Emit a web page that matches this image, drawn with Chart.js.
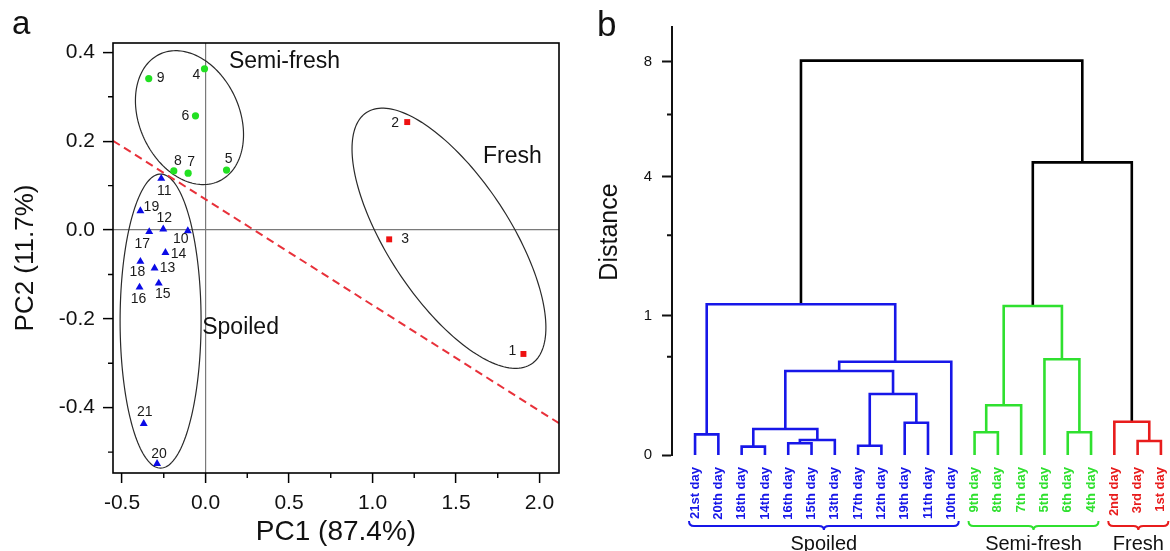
<!DOCTYPE html>
<html>
<head>
<meta charset="utf-8">
<title>PCA and HCA of storage days</title>
<script src="https://cdn.jsdelivr.net/npm/chart.js@4.4.1/dist/chart.umd.min.js"></script>
<style>
  html, body { margin: 0; padding: 0; background: #fff; }
  #wrap { position: relative; width: 1170px; height: 551px; }
  #pcaBox { position: absolute; left: 0; top: 0; width: 580px; height: 551px; }
  #hcaBox { position: absolute; left: 580px; top: 0; width: 590px; height: 551px; }
</style>
</head>
<body>
<div id="wrap">
  <div id="pcaBox"><canvas id="pcaChart"></canvas></div>
  <div id="hcaBox"><canvas id="hcaChart"></canvas></div>
</div>
<script>
const FONT = '"Liberation Sans", Arial, sans-serif';

// ---- a: PCA score plot ----
const freshDays = [1, 2, 3];
const freshPC1 = [1.904, 1.208, 1.100];
const freshPC2 = [-0.279, 0.243, -0.021];

const semiDays = [4, 5, 6, 7, 8, 9];
const semiPC1 = [-0.006, 0.126, -0.060, -0.104, -0.190, -0.340];
const semiPC2 = [0.363, 0.135, 0.257, 0.128, 0.133, 0.341];

const spoiledDays = [10, 11, 12, 13, 14, 15, 16, 17, 18, 19, 20, 21];
const spoiledPC1 = [-0.106, -0.265, -0.253, -0.305, -0.240, -0.280, -0.395, -0.337, -0.390, -0.390, -0.290, -0.370];
const spoiledPC2 = [-0.002, 0.116, 0.002, -0.086, -0.051, -0.120, -0.129, -0.004, -0.071, 0.043, -0.526, -0.436];

// group ellipses (semi-fresh, spoiled, fresh): centre and two half-axis vectors in PC units
const ellipseCenter = [[-0.096, 0.253], [-0.269, -0.205], [1.458, -0.0185]];
const ellipseAxisA = [[0.177, -0.143], [0, 0.331], [0.494, -0.283]];
const ellipseAxisB = [[-0.271, -0.0476], [0.2425, 0], [-0.305, -0.0755]];

// dividing line
const sepPC1 = [-0.554, 2.117];
const sepPC2 = [0.201, -0.435];

const pc1Ticks = [-0.5, 0, 0.5, 1, 1.5, 2];
const pc1Minor = [-0.25, 0.25, 0.75, 1.25, 1.75];
const pc2Ticks = [-0.4, -0.2, 0, 0.2, 0.4];
const pc2Minor = [-0.5, -0.3, -0.1, 0.1, 0.3];

const noteText = ['Semi-fresh', 'Fresh', 'Spoiled'];
const notePC1 = [0.473, 1.838, 0.21];
const notePC2 = [0.379, 0.165, -0.219];

// ---- b: dendrogram ----
const leafLabels = ['21st day', '20th day', '18th day', '14th day', '16th day', '15th day', '13th day',
  '17th day', '12th day', '19th day', '11th day', '10th day',
  '9th day', '8th day', '7th day', '5th day', '6th day', '4th day',
  '2nd day', '3rd day', '1st day'];
const leafGroup = [0, 0, 0, 0, 0, 0, 0, 0, 0, 0, 0, 0, 1, 1, 1, 1, 1, 1, 2, 2, 2];
const groupNames = ['Spoiled', 'Semi-fresh', 'Fresh'];

// linkage: node ids 0-20 are leaves, merge k becomes node 21 + k
const mergeLeft = [0, 2, 4, 23, 22, 7, 9, 26, 25, 29, 21, 12, 32, 16, 15, 33, 19, 18, 36, 31];
const mergeRight = [1, 3, 5, 6, 24, 8, 10, 27, 28, 11, 30, 13, 14, 17, 34, 35, 20, 37, 38, 39];
const mergeHeight = [0.022, 0.0036, 0.0071, 0.0116, 0.035, 0.0045, 0.054, 0.193, 0.365, 0.45, 1.175,
  0.0267, 0.128, 0.0267, 0.474, 1.149, 0.0101, 0.0574, 4.43, 8.05];

const distTicks = [0, 1, 4, 8];
const distMinor = [0.5, 2.5, 6];

const groupColors = ['#1717e8', '#2fe02f', '#e81c1c'];

// label placement for the day numbers, pixels from the marker
const dayLabelOffset = {
  1: [-11, -3], 2: [-12, 1], 3: [16, 0], 4: [-8, 6], 5: [2, -11], 6: [-10, 0], 7: [3, -11],
  8: [4, -10], 9: [12, 0], 10: [-7, 8], 11: [3, 13], 12: [1, -11], 13: [13, 0], 14: [13, 1],
  15: [4, 11], 16: [-1, 12], 17: [-7, 12], 18: [-3, 11], 19: [11, -4], 20: [2, -10], 21: [1, -12]
};

// square-root value axis used by the dendrogram
class SqrtScale extends Chart.LinearScale {
  static id = 'sqrt';
  getPixelForValue(value) {
    const lo = Math.sqrt(this.min), hi = Math.sqrt(this.max);
    return this.getPixelForDecimal((Math.sqrt(Math.max(0, value)) - lo) / (hi - lo));
  }
  getValueForPixel(pixel) {
    const lo = Math.sqrt(this.min), hi = Math.sqrt(this.max);
    const s = lo + this.getDecimalForPixel(pixel) * (hi - lo);
    return s * s;
  }
}
Chart.register(SqrtScale);

function toPoints(xs, ys) {
  return xs.map((v, i) => ({ x: v, y: ys[i] }));
}

const pcaDecor = {
  id: 'pcaDecor',
  beforeDatasetsDraw(chart) {
    const { ctx, scales: { x, y } } = chart;
    ctx.save();
    ctx.strokeStyle = '#2a2a2a';
    ctx.lineWidth = 1.2;
    ellipseCenter.forEach((c, i) => {
      ctx.beginPath();
      for (let k = 0; k <= 180; k++) {
        const t = k / 180 * Math.PI * 2;
        const u = c[0] + Math.cos(t) * ellipseAxisA[i][0] + Math.sin(t) * ellipseAxisB[i][0];
        const v = c[1] + Math.cos(t) * ellipseAxisA[i][1] + Math.sin(t) * ellipseAxisB[i][1];
        const px = x.getPixelForValue(u), py = y.getPixelForValue(v);
        if (k === 0) ctx.moveTo(px, py); else ctx.lineTo(px, py);
      }
      ctx.closePath();
      ctx.stroke();
    });
    ctx.restore();
  },
  afterDraw(chart) {
    const { ctx, chartArea: a, scales: { x, y } } = chart;
    ctx.save();
    // frame
    ctx.strokeStyle = '#000';
    ctx.lineWidth = 1.6;
    ctx.strokeRect(a.left, a.top, a.right - a.left, a.bottom - a.top);
    // minor ticks
    ctx.lineWidth = 1.4;
    ctx.beginPath();
    pc1Minor.forEach(v => {
      const px = x.getPixelForValue(v);
      ctx.moveTo(px, a.bottom); ctx.lineTo(px, a.bottom + 5);
    });
    pc2Minor.forEach(v => {
      const py = y.getPixelForValue(v);
      ctx.moveTo(a.left - 5, py); ctx.lineTo(a.left, py);
    });
    ctx.stroke();
    // day numbers
    ctx.fillStyle = '#1a1a1a';
    ctx.font = '14px ' + FONT;
    ctx.textAlign = 'center';
    ctx.textBaseline = 'middle';
    [[freshDays, freshPC1, freshPC2], [semiDays, semiPC1, semiPC2], [spoiledDays, spoiledPC1, spoiledPC2]]
      .forEach(([days, xs, ys]) => {
        days.forEach((d, i) => {
          const off = dayLabelOffset[d];
          ctx.fillText(String(d), x.getPixelForValue(xs[i]) + off[0], y.getPixelForValue(ys[i]) + off[1]);
        });
      });
    // group names
    ctx.fillStyle = '#111';
    ctx.font = '23px ' + FONT;
    noteText.forEach((t, i) => {
      ctx.fillText(t, x.getPixelForValue(notePC1[i]), y.getPixelForValue(notePC2[i]));
    });
    // panel letter
    ctx.font = '33px ' + FONT;
    ctx.textAlign = 'left';
    ctx.textBaseline = 'alphabetic';
    ctx.fillText('a', 12, 34);
    ctx.restore();
  }
};

new Chart(document.getElementById('pcaChart'), {
  type: 'scatter',
  data: {
    datasets: [
      {
        label: 'Fresh',
        data: toPoints(freshPC1, freshPC2),
        pointStyle: 'rect', pointRadius: 4.2,
        backgroundColor: '#ee1111', borderColor: '#ee1111', borderWidth: 0
      },
      {
        label: 'Semi-fresh',
        data: toPoints(semiPC1, semiPC2),
        pointStyle: 'circle', pointRadius: 3.6,
        backgroundColor: '#22e022', borderColor: '#22e022', borderWidth: 0
      },
      {
        label: 'Spoiled',
        data: toPoints(spoiledPC1, spoiledPC2),
        pointStyle: 'triangle', pointRadius: 4.6,
        backgroundColor: '#0b0be6', borderColor: '#0b0be6', borderWidth: 0
      },
      {
        label: 'Boundary',
        type: 'line',
        data: toPoints(sepPC1, sepPC2),
        borderColor: '#e8313a', borderWidth: 2, borderDash: [8, 5],
        pointRadius: 0, fill: false
      }
    ]
  },
  options: {
    responsive: true,
    maintainAspectRatio: false,
    animation: false,
    layout: { padding: { top: 43, right: 21, left: 0, bottom: 0 } },
    plugins: { legend: { display: false }, tooltip: { enabled: false } },
    scales: {
      x: {
        type: 'linear', min: -0.554, max: 2.117,
        afterBuildTicks: s => { s.ticks = pc1Ticks.map(v => ({ value: v })); },
        afterFit: s => { s.height = 78; },
        border: { display: false },
        grid: {
          color: c => (c.tick && c.tick.value === 0 ? '#7a7a7a' : 'transparent'),
          lineWidth: 1.2, tickColor: '#000', tickLength: 10, tickWidth: 1.5
        },
        ticks: {
          padding: 8, color: '#111', maxRotation: 0, autoSkip: false,
          font: { family: FONT, size: 21 },
          callback: v => v.toFixed(1)
        },
        title: {
          display: true, text: 'PC1 (87.4%)', color: '#111',
          font: { family: FONT, size: 28 }, padding: { top: 0, bottom: 2 }
        }
      },
      y: {
        type: 'linear', min: -0.547, max: 0.421,
        afterBuildTicks: s => { s.ticks = pc2Ticks.map(v => ({ value: v })); },
        afterFit: s => { s.width = 113; },
        border: { display: false },
        grid: {
          color: c => (c.tick && c.tick.value === 0 ? '#7a7a7a' : 'transparent'),
          lineWidth: 1.2, tickColor: '#000', tickLength: 10, tickWidth: 1.5
        },
        ticks: {
          padding: 8, color: '#111',
          font: { family: FONT, size: 21 },
          callback: v => v.toFixed(1)
        },
        title: {
          display: true, text: 'PC2 (11.7%)', color: '#111',
          font: { family: FONT, size: 26 }, padding: { top: 10, bottom: 0 }
        }
      }
    }
  },
  plugins: [pcaDecor]
});

// node positions and heights for the dendrogram
const nLeaf = leafLabels.length;
const nodeX = leafLabels.map((_, i) => i);
const nodeH = leafLabels.map(() => 0);
const nodeGroup = leafGroup.slice();
const linkSets = mergeLeft.map((l, k) => {
  const r = mergeRight[k];
  const h = mergeHeight[k];
  nodeX.push((nodeX[l] + nodeX[r]) / 2);
  nodeH.push(h);
  const g = nodeGroup[l] === nodeGroup[r] ? nodeGroup[l] : -1;
  nodeGroup.push(g);
  return {
    label: 'link ' + (nLeaf + k),
    data: [
      { x: nodeX[l], y: nodeH[l] }, { x: nodeX[l], y: h },
      { x: nodeX[r], y: h }, { x: nodeX[r], y: nodeH[r] }
    ],
    borderColor: g < 0 ? '#000' : groupColors[g],
    borderWidth: 2.6,
    borderJoinStyle: 'miter',
    pointRadius: 0,
    tension: 0,
    fill: false,
    clip: false
  };
});

const hcaDecor = {
  id: 'hcaDecor',
  afterDraw(chart) {
    const { ctx, chartArea: a, scales: { x, y } } = chart;
    ctx.save();
    // minor ticks
    ctx.strokeStyle = '#111';
    ctx.lineWidth = 2;
    ctx.beginPath();
    distMinor.forEach(v => {
      const py = y.getPixelForValue(v);
      ctx.moveTo(a.left - 5, py); ctx.lineTo(a.left, py);
    });
    ctx.stroke();
    // leaf names
    ctx.font = 'bold 13px ' + FONT;
    ctx.textAlign = 'right';
    ctx.textBaseline = 'middle';
    leafLabels.forEach((lab, i) => {
      ctx.save();
      ctx.translate(x.getPixelForValue(i), a.bottom + 12);
      ctx.rotate(-Math.PI / 2);
      ctx.fillStyle = groupColors[leafGroup[i]];
      ctx.fillText(lab, 0, 0);
      ctx.restore();
    });
    // braces and cluster names
    const yb = a.bottom + 71;
    groupNames.forEach((name, g) => {
      const first = leafGroup.indexOf(g);
      const last = leafGroup.lastIndexOf(g);
      const xl = x.getPixelForValue(first - 0.26);
      const xr = x.getPixelForValue(last + 0.32);
      const xm = (xl + xr) / 2;
      ctx.strokeStyle = groupColors[g];
      ctx.lineWidth = 2;
      ctx.beginPath();
      ctx.moveTo(xl, yb - 5);
      ctx.quadraticCurveTo(xl, yb, xl + 5, yb);
      ctx.lineTo(xm - 5, yb);
      ctx.quadraticCurveTo(xm, yb, xm, yb + 4);
      ctx.quadraticCurveTo(xm, yb, xm + 5, yb);
      ctx.lineTo(xr - 5, yb);
      ctx.quadraticCurveTo(xr, yb, xr, yb - 5);
      ctx.stroke();
      ctx.fillStyle = '#111';
      ctx.font = '20px ' + FONT;
      ctx.textAlign = 'center';
      ctx.textBaseline = 'top';
      ctx.fillText(name, xm, yb + 8);
    });
    // axis title and panel letter
    ctx.fillStyle = '#111';
    ctx.save();
    ctx.translate(30, 232);
    ctx.rotate(-Math.PI / 2);
    ctx.font = '25px ' + FONT;
    ctx.textAlign = 'center';
    ctx.textBaseline = 'middle';
    ctx.fillText('Distance', 0, 0);
    ctx.restore();
    ctx.font = '35px ' + FONT;
    ctx.textAlign = 'left';
    ctx.textBaseline = 'alphabetic';
    ctx.fillText('b', 17, 36);
    ctx.restore();
  }
};

new Chart(document.getElementById('hcaChart'), {
  type: 'line',
  data: { datasets: linkSets },
  options: {
    responsive: true,
    maintainAspectRatio: false,
    animation: false,
    layout: { padding: { top: 27, right: 0, left: 0, bottom: 96 } },
    plugins: { legend: { display: false }, tooltip: { enabled: false } },
    scales: {
      x: { type: 'linear', display: false, min: -0.99, max: 20.39 },
      y: {
        type: 'sqrt', min: 0, max: 9.48,
        afterBuildTicks: s => { s.ticks = distTicks.map(v => ({ value: v })); },
        afterFit: s => { s.width = 92; },
        border: { display: true, color: '#111', width: 2 },
        grid: { drawOnChartArea: false, tickLength: 10, tickWidth: 2, tickColor: '#111' },
        ticks: {
          padding: 10, color: '#111',
          font: { family: FONT, size: 15 },
          callback: v => String(v)
        }
      }
    }
  },
  plugins: [hcaDecor]
});
</script>
</body>
</html>
